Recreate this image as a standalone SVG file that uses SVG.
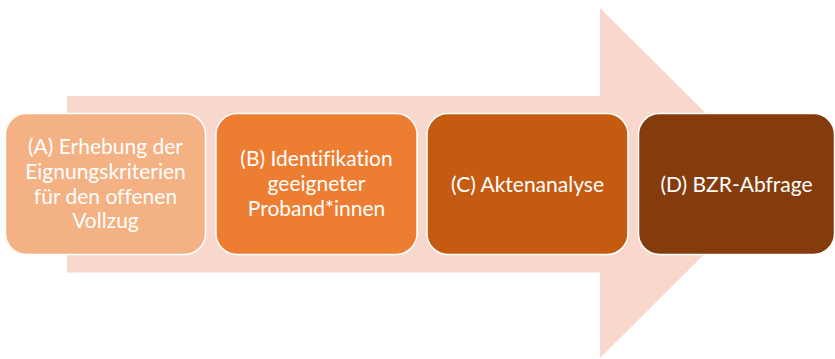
<svg xmlns="http://www.w3.org/2000/svg" width="835" height="359" viewBox="0 0 835 359">
<style>
.box{stroke:#ffffff;stroke-width:1.5}
.t{font-family:Lato,"Open Sans","Liberation Sans",sans-serif;font-size:21px;fill:#ffffff;text-anchor:middle;font-variant-ligatures:none}
</style>
<rect width="835" height="359" fill="#ffffff"/>
<g id="connectors">
<polygon points="67,96 600,96 600,8 776,183 600,358 600,272.5 67,272.5" fill="#F8D8CD"/>
</g>
<g id="nodeA">
<rect class="box" x="5.5" y="113.5" width="200" height="141" rx="21" fill="#F4B183"/>
<text class="t" x="105.5" y="154">(A) Erhebung der</text>
<text class="t" x="105.5" y="179">Eignungskriterien</text>
<text class="t" x="105.5" y="203.5">für den offenen</text>
<text class="t" x="105.5" y="228">Vollzug</text>
</g>
<g id="nodeB">
<rect class="box" x="216" y="113.5" width="201" height="141" rx="21" fill="#ED7D31"/>
<text class="t" x="316.5" y="166">(B) Identifikation</text>
<text class="t" x="316.5" y="191">geeigneter</text>
<text class="t" x="316.5" y="216">Proband*innen</text>
</g>
<g id="nodeC">
<rect class="box" x="427" y="113.5" width="201" height="141" rx="21" fill="#C55A11"/>
<text class="t" x="527.5" y="191.5">(C) Aktenanalyse</text>
</g>
<g id="nodeD">
<rect class="box" x="638.5" y="113.5" width="196" height="141" rx="21" fill="#843C0C"/>
<text class="t" x="736.5" y="191.5">(D) BZR-Abfrage</text>
</g>
</svg>
